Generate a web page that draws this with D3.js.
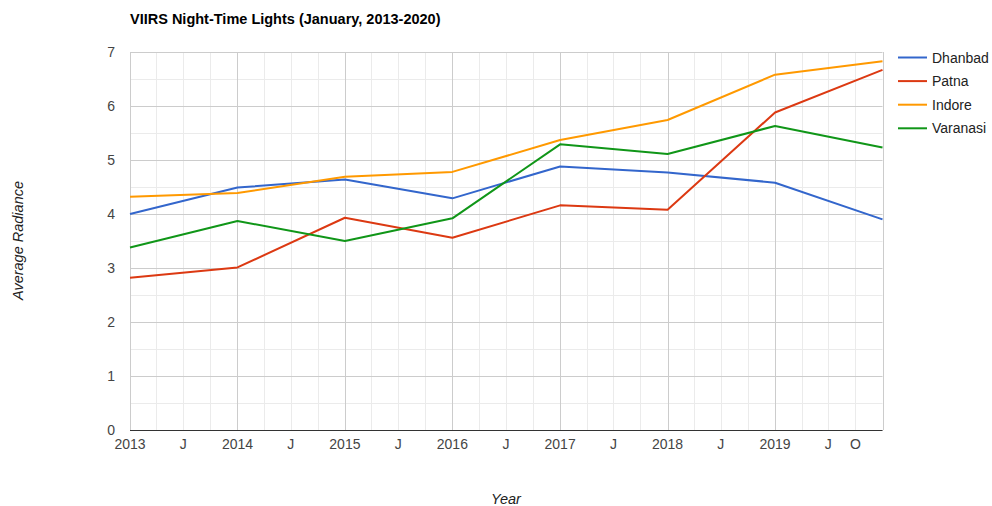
<!DOCTYPE html>
<html>
<head>
<meta charset="UTF-8">
<title>VIIRS Night-Time Lights</title>
<script src="https://cdn.jsdelivr.net/npm/d3@7"></script>
<style>
  body { margin: 0; background: #fff; }
  text { font-family: "Liberation Sans", Arial, sans-serif; }
</style>
</head>
<body>
<script>
// data (January of each year)
var years = [2013, 2014, 2015, 2016, 2017, 2018, 2019, 2020];
var dhanbad  = [4.00, 4.49, 4.64, 4.29, 4.88, 4.77, 4.58, 3.90];
var patna    = [2.82, 3.01, 3.93, 3.56, 4.16, 4.08, 5.88, 6.67];
var indore   = [4.32, 4.39, 4.69, 4.78, 5.37, 5.74, 6.58, 6.83];
var varanasi = [3.38, 3.87, 3.50, 3.92, 5.29, 5.11, 5.63, 5.23];

var seriesNames = ["Dhanbad", "Patna", "Indore", "Varanasi"];
var colors = ["#3366cc", "#dc3912", "#ff9900", "#109618"];

var yTicks = [0, 1, 2, 3, 4, 5, 6, 7];
var xTickDates = ["2013-01", "2013-07", "2014-01", "2014-07", "2015-01", "2015-07",
  "2016-01", "2016-07", "2017-01", "2017-07", "2018-01", "2018-07", "2019-01", "2019-07", "2019-10"];
var xTickLabels = ["2013", "J", "2014", "J", "2015", "J", "2016", "J", "2017", "J", "2018", "J", "2019", "J", "O"];

var W = 992, H = 506;
var plotL = 130, plotR = 882.5, plotT = 52, plotB = 430;

var parseMonth = d3.timeParse("%Y-%m");

var x = d3.scaleTime()
    .domain([new Date(2013, 0, 1), new Date(2020, 0, 1)])
    .range([plotL, plotR]);
var y = d3.scaleLinear().domain([0, 7]).range([plotB, plotT]);

var svg = d3.select("body").append("svg")
    .attr("width", W)
    .attr("height", H);

// minor gridlines (quarters, half units)
var quarters = d3.timeMonth.every(3).range(new Date(2013, 0, 1), new Date(2020, 0, 2));
svg.append("g").selectAll("line")
    .data(quarters.filter(function(d){ return d.getMonth() != 0; }))
    .enter().append("line")
    .attr("x1", function(d){ return Math.round(x(d)) + 0.5; })
    .attr("x2", function(d){ return Math.round(x(d)) + 0.5; })
    .attr("y1", plotT).attr("y2", plotB)
    .attr("stroke", "#ebebeb");

svg.append("g").selectAll("line")
    .data(d3.range(0.5, 7, 1))
    .enter().append("line")
    .attr("x1", plotL).attr("x2", plotR)
    .attr("y1", function(d){ return Math.round(y(d)) + 0.5; })
    .attr("y2", function(d){ return Math.round(y(d)) + 0.5; })
    .attr("stroke", "#ebebeb");

// major gridlines
svg.append("g").selectAll("line")
    .data(years)
    .enter().append("line")
    .attr("x1", function(d){ return Math.round(x(new Date(d, 0, 1))) + 0.5; })
    .attr("x2", function(d){ return Math.round(x(new Date(d, 0, 1))) + 0.5; })
    .attr("y1", plotT).attr("y2", plotB)
    .attr("stroke", "#cccccc");

svg.append("g").selectAll("line")
    .data(yTicks)
    .enter().append("line")
    .attr("x1", plotL).attr("x2", plotR)
    .attr("y1", function(d){ return Math.round(y(d)) + 0.5; })
    .attr("y2", function(d){ return Math.round(y(d)) + 0.5; })
    .attr("stroke", "#cccccc");

// baseline
svg.append("line")
    .attr("x1", plotL).attr("x2", plotR)
    .attr("y1", Math.round(y(0)) + 0.5).attr("y2", Math.round(y(0)) + 0.5)
    .attr("stroke", "#333333");

// y axis labels
svg.append("g").selectAll("text")
    .data(yTicks)
    .enter().append("text")
    .attr("x", 115)
    .attr("y", function(d){ return y(d) + 5; })
    .attr("text-anchor", "end")
    .attr("font-size", 14)
    .attr("fill", "#444")
    .text(function(d){ return d; });

// x axis labels
svg.append("g").selectAll("text")
    .data(xTickDates)
    .enter().append("text")
    .attr("x", function(d){ return x(parseMonth(d)); })
    .attr("y", 449)
    .attr("text-anchor", "middle")
    .attr("font-size", 14)
    .attr("fill", "#444")
    .text(function(d, i){ return xTickLabels[i]; });

// lines
var allSeries = [dhanbad, patna, indore, varanasi];
var line = d3.line()
    .x(function(d, i){ return x(new Date(years[i], 0, 1)); })
    .y(function(d){ return y(d); });

svg.append("g").selectAll("path")
    .data(allSeries)
    .enter().append("path")
    .attr("d", line)
    .attr("fill", "none")
    .attr("stroke", function(d, i){ return colors[i]; })
    .attr("stroke-width", 2)
    .attr("stroke-linejoin", "round");

// legend
var legend = svg.append("g").selectAll("g")
    .data(seriesNames)
    .enter().append("g")
    .attr("transform", function(d, i){ return "translate(898," + (57.5 + i * 23.6) + ")"; });

legend.append("line")
    .attr("x1", 0).attr("x2", 29)
    .attr("y1", 0).attr("y2", 0)
    .attr("stroke", function(d, i){ return colors[i]; })
    .attr("stroke-width", 2);

legend.append("text")
    .attr("x", 34)
    .attr("y", 5)
    .attr("font-size", 14)
    .attr("fill", "#222")
    .text(function(d){ return d; });

// title
svg.append("text")
    .attr("x", 130)
    .attr("y", 24)
    .attr("font-size", 14.5)
    .attr("font-weight", "bold")
    .attr("fill", "#000")
    .text("VIIRS Night-Time Lights (January, 2013-2020)");

// axis titles
svg.append("text")
    .attr("transform", "translate(23,240.5) rotate(-90)")
    .attr("text-anchor", "middle")
    .attr("font-size", 14.5)
    .attr("font-style", "italic")
    .attr("fill", "#222")
    .text("Average Radiance");

svg.append("text")
    .attr("x", 506)
    .attr("y", 504)
    .attr("text-anchor", "middle")
    .attr("font-size", 14.5)
    .attr("font-style", "italic")
    .attr("fill", "#222")
    .text("Year");
</script>
</body>
</html>
